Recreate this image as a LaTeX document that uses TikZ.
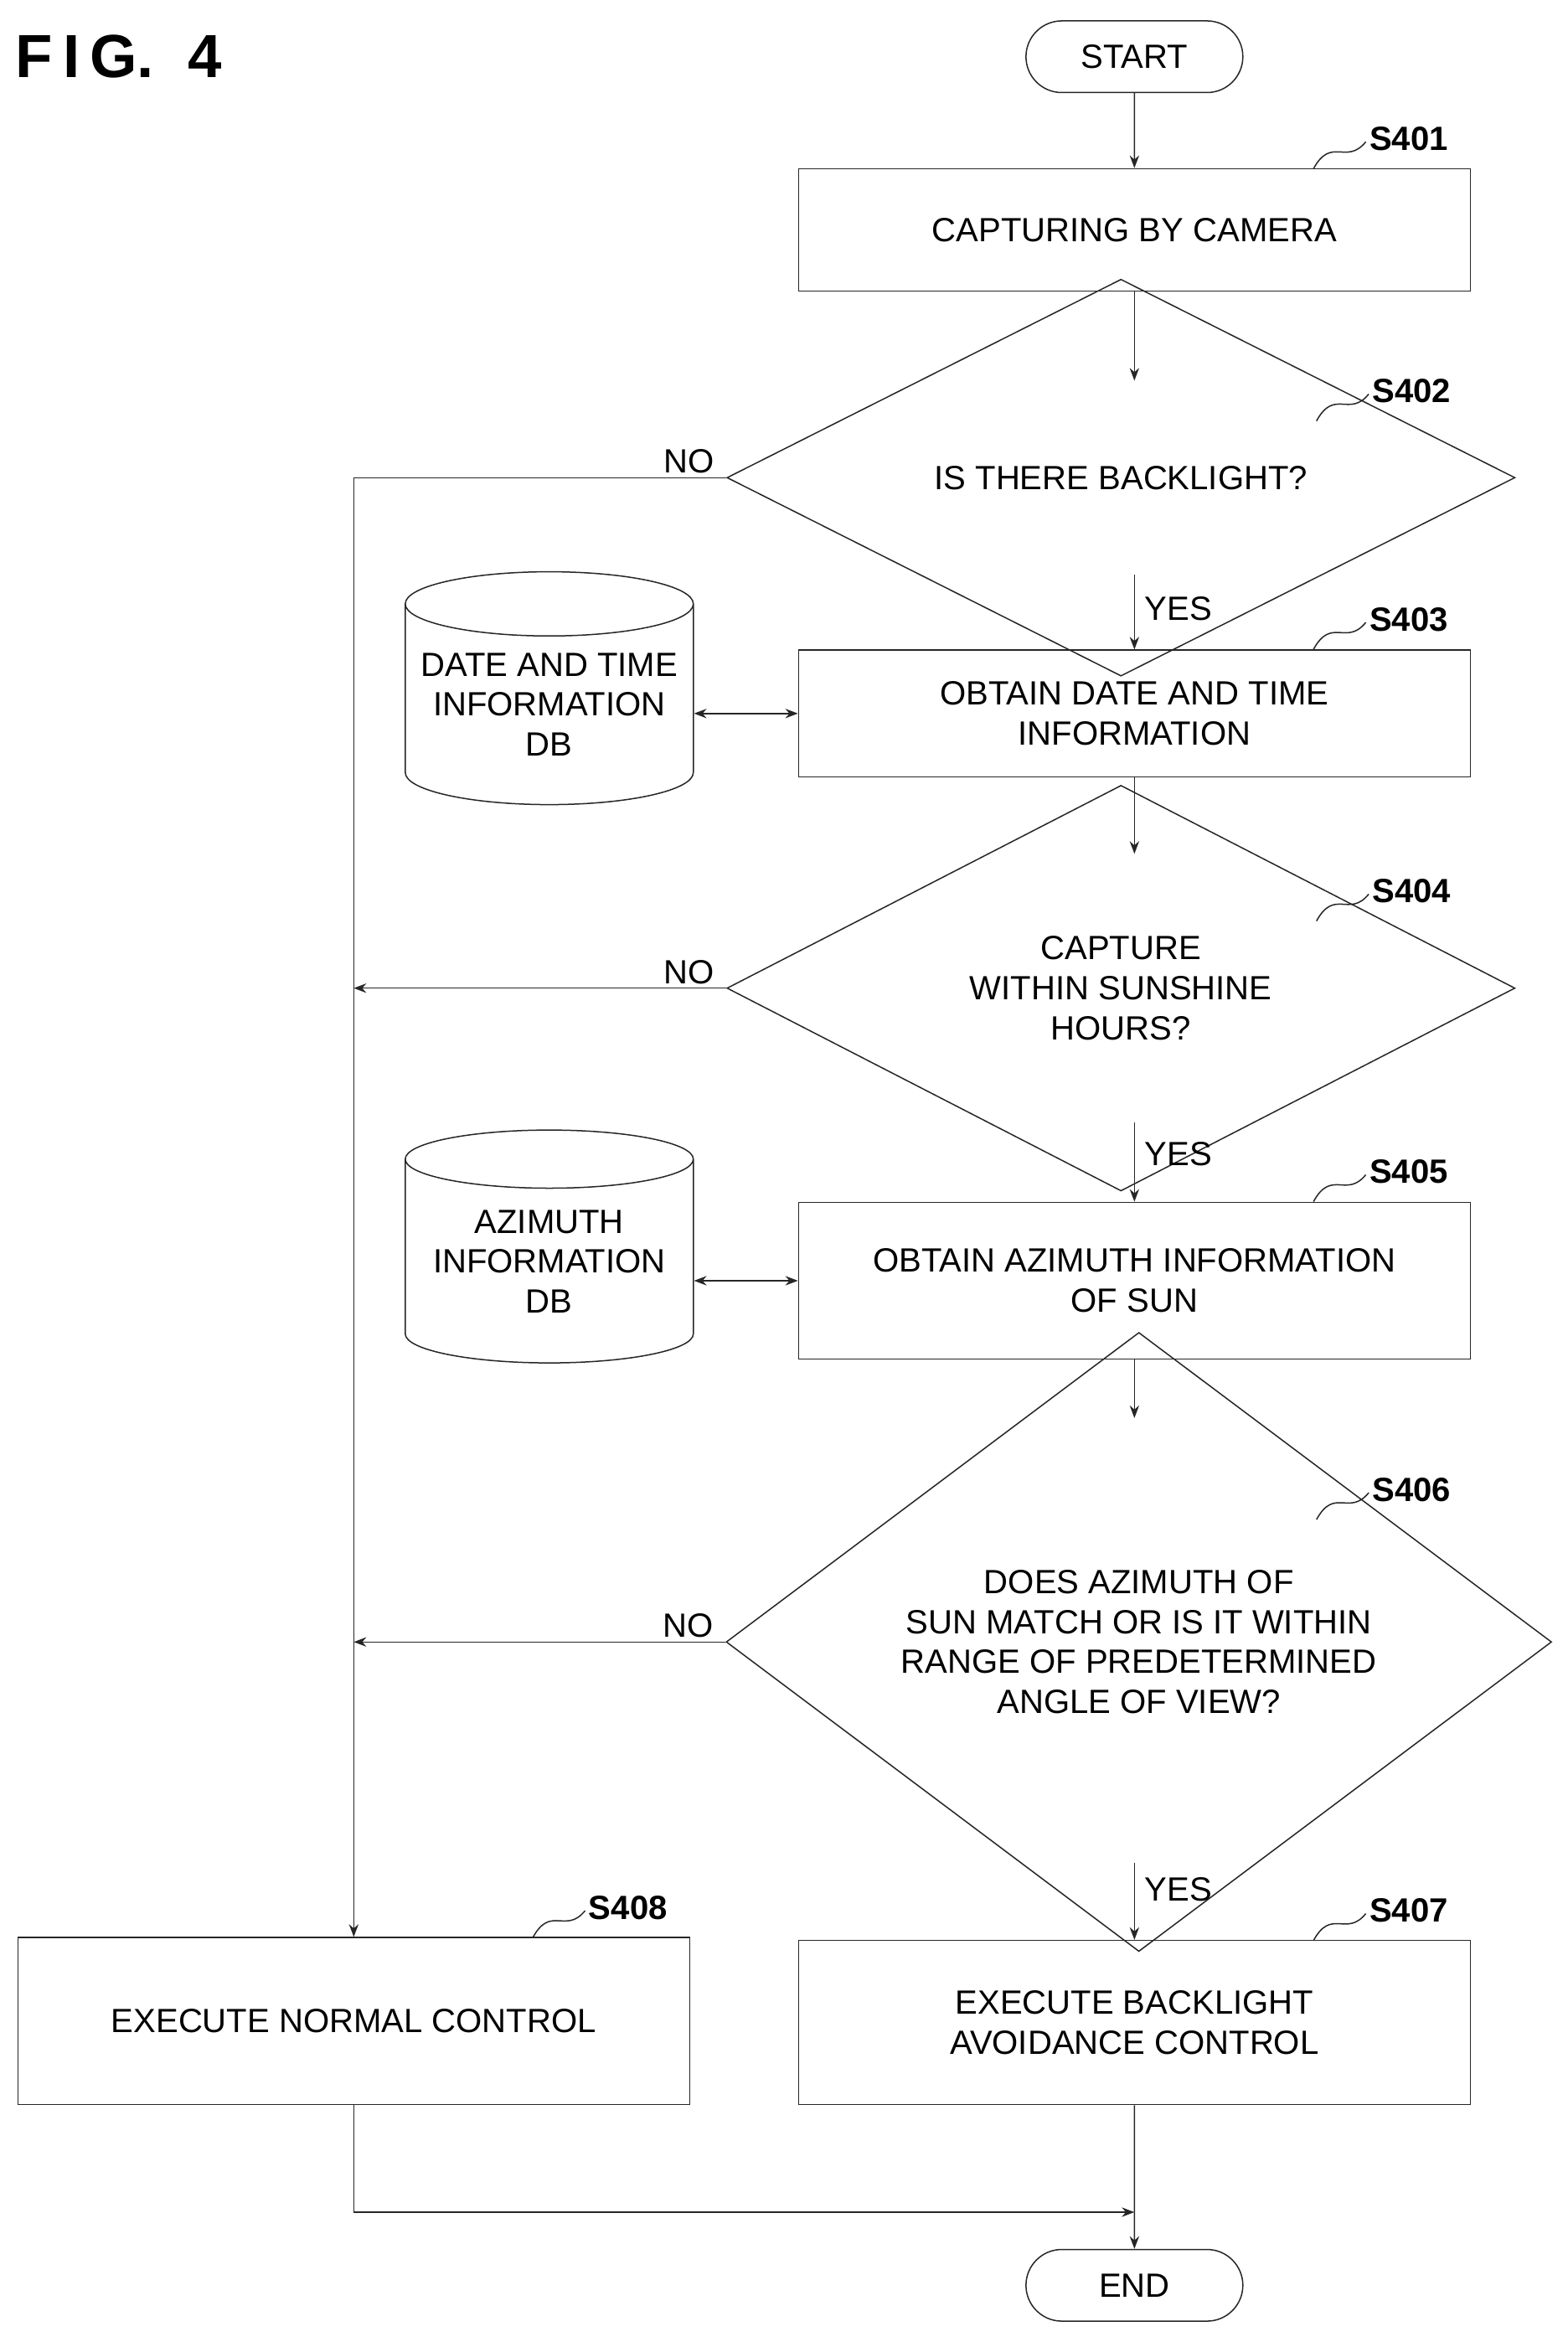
\documentclass[tikz,border=0pt]{standalone}
\usepackage{fontspec}
\setmainfont{Liberation Sans}
\usetikzlibrary{shapes.geometric,arrows.meta}
\tikzset{
  every picture/.style={x=0.05cm,y=-0.05cm},
  line/.style={draw=black!85, line width=1.2pt},
  arr/.style={line, -{Stealth[length=12pt,width=9pt]}},
  darr/.style={line, {Stealth[length=12pt,width=9pt]}-{Stealth[length=12pt,width=9pt]}},
  txt/.style={font=\fontsize{32}{38}\selectfont, align=center},
  proc/.style={line, txt, rectangle, minimum width=22.5cm, inner sep=0pt},
  decision/.style={line, txt, diamond, inner sep=0pt},
  term/.style={line, txt, rounded rectangle, minimum width=7.5cm, minimum height=2.4cm},
  db/.style={line, txt, cylinder, shape border rotate=90, aspect=0.25,
    minimum width=9.65cm, minimum height=7.8cm, inner sep=0pt},
  steplbl/.style={font=\fontsize{32}{38}\selectfont\bfseries},
}
\usetikzlibrary{shapes.misc}
\newcommand{\steptag}[3]{% corner x, corner y, label
  \draw[line] (#1,#2) .. controls (#1+12,#2-22) and (#1+22,#2-2) .. (#1+35,#2-18);
  \node[steplbl, anchor=west] at (#1+35,#2-20) {#3};
}
\begin{document}
\begin{tikzpicture}
    \useasboundingbox (0,0) rectangle (1050,1569);

    % Title
    \node[font=\fontsize{58}{64}\selectfont\bfseries, anchor=west] (title) at (8,38) {F\,I\,G.\ \ 4};

    % Main column
    \node[term] (start) at (760,38) {START};
    \node[proc, minimum height=4.1cm] (s401) at (760,154) {CAPTURING BY CAMERA};
    \node[decision, minimum width=26.4cm, minimum height=6.5cm] (s402) at (751,320) {IS THERE BACKLIGHT?};
    \node[proc, minimum height=4.25cm] (s403) at (760,478) {OBTAIN DATE AND TIME\\INFORMATION};
    \node[decision, minimum width=26.4cm, minimum height=9cm] (s404) at (751,662) {CAPTURE\\WITHIN SUNSHINE\\HOURS?};
    \node[proc, minimum height=5.25cm] (s405) at (760,858) {OBTAIN AZIMUTH INFORMATION\\OF SUN};
    \node[decision, minimum width=27.65cm, minimum height=14.9cm] (s406) at (763,1100) {DOES AZIMUTH OF\\SUN MATCH OR IS IT WITHIN\\RANGE OF PREDETERMINED\\ANGLE OF VIEW?};
    \node[proc, minimum height=5.5cm] (s407) at (760,1355) {EXECUTE BACKLIGHT\\AVOIDANCE CONTROL};
    \node[proc, minimum height=5.6cm] (s408) at (237,1354) {EXECUTE NORMAL CONTROL};
    \node[term] (end) at (760,1531) {END};

    % Databases
    \node[db] (dtdb) at (368,472) {DATE AND TIME\\INFORMATION\\DB};
    \node[db] (azdb) at (368,845) {AZIMUTH\\INFORMATION\\DB};

    % Step labels
    \steptag{880}{113}{S401}
    \steptag{882}{282}{S402}
    \steptag{880}{435}{S403}
    \steptag{882}{617}{S404}
    \steptag{880}{805}{S405}
    \steptag{882}{1018}{S406}
    \steptag{880}{1300}{S407}
    \steptag{357}{1298}{S408}

    % Flow
    \draw[arr] (start) -- (s401);
    \draw[arr] (s401) -- (760,255);
    \draw[arr] (760,385) -- (s403) node[pos=0.45, right=6pt, txt] {YES};
    \draw[arr] (s403) -- (760,572);
    \draw[arr] (760,752) -- (s405) node[pos=0.4, right=6pt, txt] {YES};
    \draw[arr] (s405) -- (760,950);
    \draw[arr] (760,1248) -- (s407) node[pos=0.35, right=6pt, txt] {YES};
    \draw[arr] (s407) -- (end);
    \draw[darr] (dtdb.east |- s403) -- (s403);
    \draw[darr] (azdb.east |- s405) -- (s405);

    % NO branches
    \draw[arr] (s402.west) -- node[pos=0.1, above, txt] {NO} (237,320) -- (s408);
    \draw[arr] (s404.west) -- node[pos=0.1, above, txt] {NO} (237,662);
    \draw[arr] (s406.west) -- node[pos=0.1, above, txt] {NO} (237,1100);
    \draw[arr] (s408) -- (237,1482) -- (760,1482);
\end{tikzpicture}
\end{document}
